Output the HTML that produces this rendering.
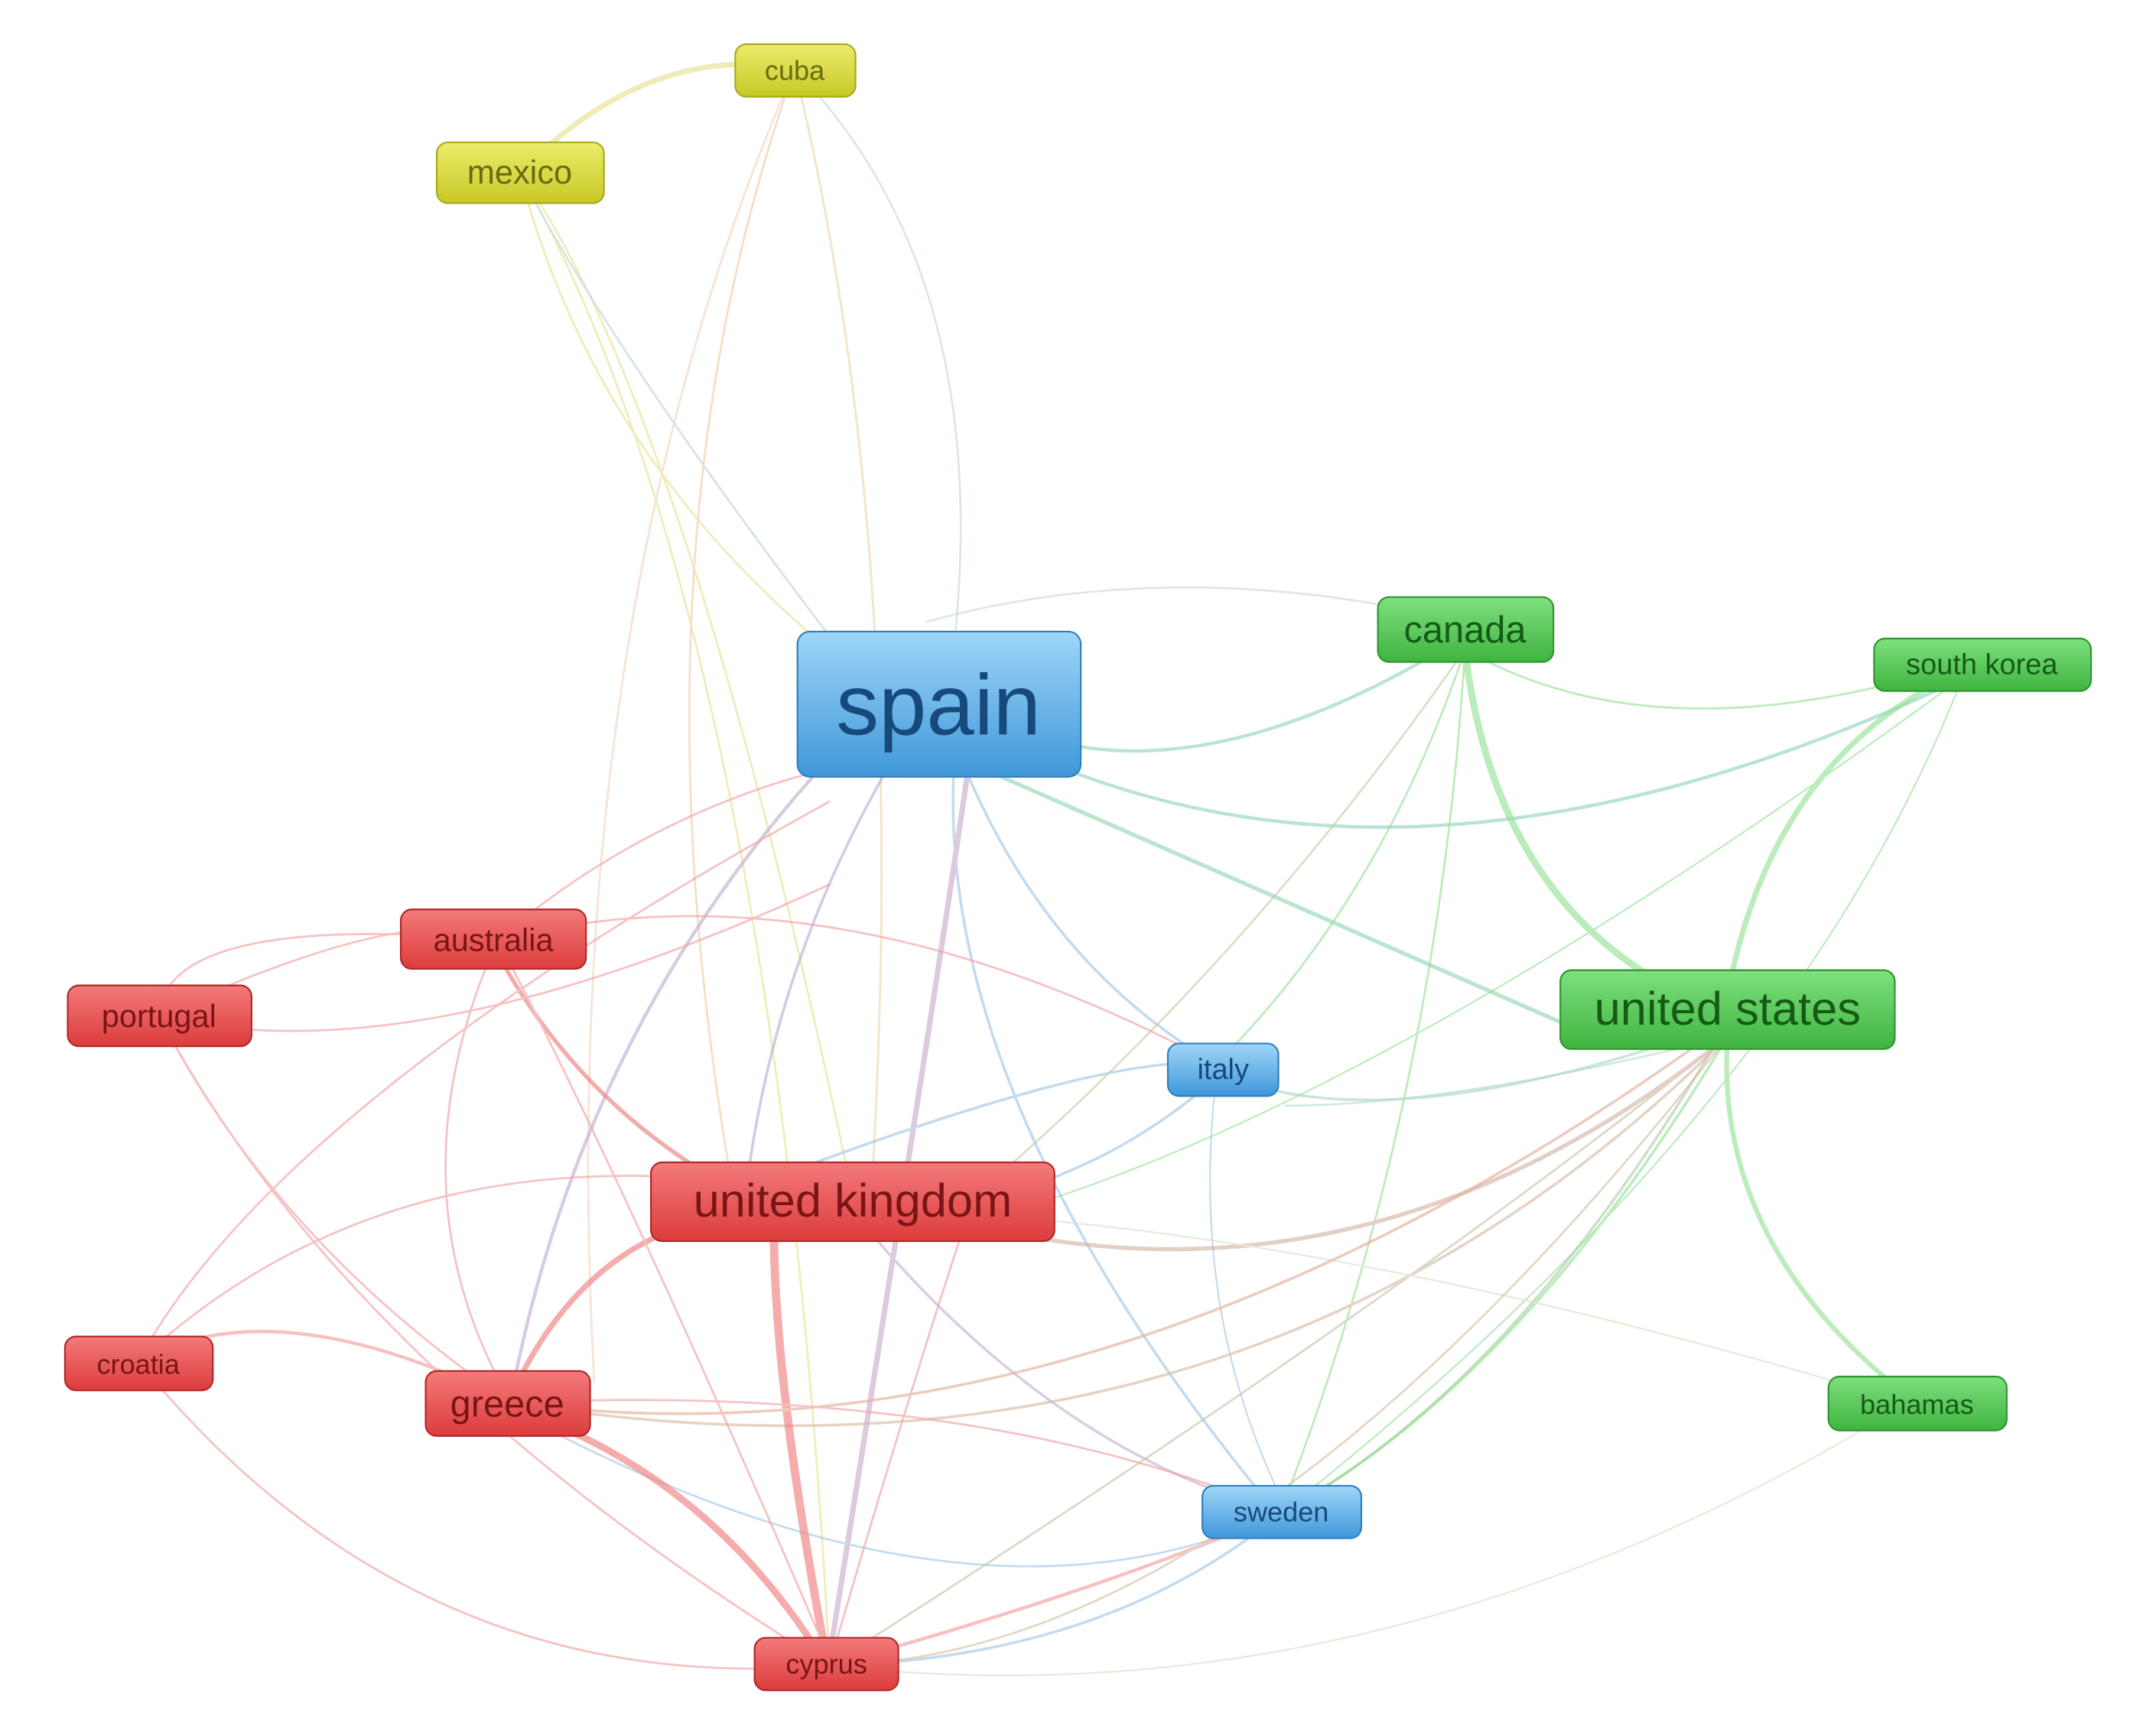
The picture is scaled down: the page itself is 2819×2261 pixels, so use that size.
<!DOCTYPE html>
<html><head><meta charset="utf-8"><style>
html,body{margin:0;padding:0;background:#fff;}
svg{display:block;}
text{font-family:"Liberation Sans",sans-serif;text-anchor:middle;dominant-baseline:central;}
</style></head><body>
<svg width="2819" height="2261" viewBox="0 0 1560 1251" preserveAspectRatio="none" xmlns="http://www.w3.org/2000/svg">
<defs>
<linearGradient id="gr" x1="0" y1="0" x2="0" y2="1"><stop offset="0" stop-color="#f47a7a"/><stop offset="1" stop-color="#dc3c3c"/></linearGradient>
<linearGradient id="gb" x1="0" y1="0" x2="0" y2="1"><stop offset="0" stop-color="#9fd6f8"/><stop offset="1" stop-color="#3f97da"/></linearGradient>
<linearGradient id="gg" x1="0" y1="0" x2="0" y2="1"><stop offset="0" stop-color="#7fe07f"/><stop offset="1" stop-color="#3fb43f"/></linearGradient>
<linearGradient id="gy" x1="0" y1="0" x2="0" y2="1"><stop offset="0" stop-color="#ecec6a"/><stop offset="1" stop-color="#c8c828"/></linearGradient>
</defs>
<g fill="none" stroke-linecap="round">
<g stroke="#e6e08a" stroke-width="1.5" opacity="0.6">
<path d="M376 125 Q470 30 575 50" stroke-width="4"/>
<path d="M376 125 Q430 330 600 470"/>
<path d="M376 125 Q500 300 620 880"/>
<path d="M376 125 Q560 450 600 1200"/>
<path d="M575 50 Q720 200 690 470" stroke="#c8d4dc"/>
<path d="M575 50 Q450 400 530 860" stroke="#f0c8a0"/>
<path d="M575 50 Q660 400 630 870" stroke="#f0d0a0"/>
<path d="M575 50 Q400 450 430 1000" stroke="#f4d0b8"/>
<path d="M376 125 Q440 250 600 460" stroke="#b8d0d8"/>
</g>
<g stroke="#9cc4e6" stroke-width="2" opacity="0.6">
<path d="M720 560 Q900 640 1130 740" stroke="#8ed4b0" stroke-width="3"/>
<path d="M780 560 Q1050 660 1400 500" stroke="#8ecfc0" stroke-width="2.5"/>
<path d="M780 540 Q900 560 1060 460" stroke="#8ed4b4" stroke-width="2.5"/>
<path d="M700 560 Q760 700 880 770"/>
<path d="M690 560 Q680 800 920 1090"/>
<path d="M700 560 Q680 700 600 1200" stroke="#c8a8c8" stroke-width="4"/>
<path d="M640 560 Q560 700 540 860" stroke="#b8a8d0" stroke-width="2"/>
<path d="M590 560 Q420 750 370 1010" stroke="#c0a8d0" stroke-width="2.5"/>
<path d="M880 775 Q1000 830 1250 740" stroke="#a8d4c4"/>
<path d="M880 770 Q800 760 540 860"/>
<path d="M880 780 Q800 850 700 870"/>
<path d="M880 780 Q860 950 930 1090" stroke-width="1.2"/>
<path d="M928 1094 Q1100 1000 1250 740" stroke="#b0c8a8"/>
<path d="M928 1094 Q700 1200 370 1020" stroke-width="1.5"/>
<path d="M928 1094 Q800 1200 600 1205"/>
<path d="M928 1094 Q760 1050 620 880" stroke="#c0b0d0"/>
<path d="M670 450 Q850 400 1060 450" stroke="#c8dcc8" stroke-width="1.5"/>
</g>
<g stroke="#8ee08e" stroke-width="1.5" opacity="0.6">
<path d="M1060 470 Q1080 640 1200 710" stroke-width="5"/>
<path d="M1400 495 Q1280 560 1250 720" stroke-width="4"/>
<path d="M1250 750 Q1240 900 1380 1010" stroke-width="3.5"/>
<path d="M1060 470 Q1000 650 880 770"/>
<path d="M1060 470 Q1040 800 928 1090"/>
<path d="M1060 470 Q900 700 700 870" stroke="#c8c8a0"/>
<path d="M1060 470 Q1200 550 1420 480"/>
<path d="M1250 750 Q1000 950 600 1205" stroke="#c0c0a0"/>
<path d="M1250 750 Q900 1100 370 1015" stroke="#d4b8a0" stroke-width="2"/>
<path d="M1250 750 Q1000 950 720 890" stroke="#d0b0a0" stroke-width="3"/>
<path d="M1250 750 Q1100 1000 928 1094" stroke-width="2"/>
<path d="M1420 490 Q1300 800 928 1094" stroke-width="1.2"/>
<path d="M1420 490 Q1000 800 720 880" stroke-width="1.2"/>
<path d="M1380 1015 Q1000 1250 600 1205" stroke="#d0e0c0" stroke-width="1.2"/>
<path d="M1380 1015 Q1000 900 720 880" stroke="#d0e0c0" stroke-width="1.2"/>
<path d="M1250 750 Q1050 800 930 800" stroke="#b4dcc0"/>
</g>
<g stroke="#f4a0a0" stroke-width="1.5" opacity="0.65">
<path d="M560 890 Q560 1000 598 1200" stroke="#f08080" stroke-width="6"/>
<path d="M400 1030 Q520 1080 595 1200" stroke="#f08080" stroke-width="5"/>
<path d="M370 1010 Q420 900 520 880" stroke="#f08080" stroke-width="4"/>
<path d="M360 690 Q420 800 530 860" stroke="#ec8080" stroke-width="3"/>
<path d="M115 735 Q250 990 600 1205"/>
<path d="M115 735 Q200 900 370 1015"/>
<path d="M115 735 Q300 650 360 680"/>
<path d="M115 735 Q300 780 600 640"/>
<path d="M115 735 Q120 660 360 680"/>
<path d="M100 985 Q200 930 370 1015" stroke-width="2.5"/>
<path d="M100 985 Q300 1230 600 1205"/>
<path d="M100 985 Q200 800 600 580"/>
<path d="M100 985 Q300 800 620 870"/>
<path d="M360 680 Q280 860 370 1015"/>
<path d="M360 680 Q450 850 600 1200"/>
<path d="M360 680 Q500 560 690 540"/>
<path d="M360 680 Q600 620 880 770"/>
<path d="M370 1015 Q800 1070 1250 740" stroke="#e4b09c" stroke-width="2"/>
<path d="M600 1205 Q800 1150 928 1094" stroke-width="2.5"/>
<path d="M600 1205 Q900 1200 1250 750" stroke="#d8c0a0"/>
<path d="M600 1205 Q660 1000 700 880"/>
<path d="M370 1015 Q700 1000 928 1094"/>
</g>
</g>
<g stroke-width="1.2">
<rect x="532" y="32" width="87" height="38" rx="8" fill="url(#gy)" stroke="#a8a820"/>
<rect x="316" y="103" width="121" height="44" rx="8" fill="url(#gy)" stroke="#a8a820"/>
<rect x="577" y="457" width="205" height="105" rx="9" fill="url(#gb)" stroke="#2f7fbf"/>
<rect x="997" y="432" width="127" height="47" rx="8" fill="url(#gg)" stroke="#2f942f"/>
<rect x="1356" y="462" width="157" height="38" rx="8" fill="url(#gg)" stroke="#2f942f"/>
<rect x="290" y="658" width="134" height="43" rx="8" fill="url(#gr)" stroke="#b02828"/>
<rect x="49" y="713" width="133" height="44" rx="8" fill="url(#gr)" stroke="#b02828"/>
<rect x="1129" y="702" width="242" height="57" rx="8" fill="url(#gg)" stroke="#2f942f"/>
<rect x="845" y="755" width="80" height="38" rx="8" fill="url(#gb)" stroke="#2f7fbf"/>
<rect x="471" y="841" width="292" height="57" rx="8" fill="url(#gr)" stroke="#b02828"/>
<rect x="47" y="967" width="107" height="39" rx="8" fill="url(#gr)" stroke="#b02828"/>
<rect x="308" y="992" width="119" height="47" rx="8" fill="url(#gr)" stroke="#b02828"/>
<rect x="1323" y="996" width="129" height="39" rx="8" fill="url(#gg)" stroke="#2f942f"/>
<rect x="870" y="1075" width="115" height="38" rx="8" fill="url(#gb)" stroke="#2f7fbf"/>
<rect x="546" y="1185" width="104" height="38" rx="8" fill="url(#gr)" stroke="#b02828"/>
</g>
<g>
<text x="575" y="51" font-size="20" fill="#6a6a10">cuba</text>
<text x="376" y="125" font-size="24" fill="#6a6a10">mexico</text>
<text x="679" y="510" font-size="62" fill="#174a7a">spain</text>
<text x="1060" y="456" font-size="27" fill="#155a15">canada</text>
<text x="1434" y="481" font-size="21" fill="#155a15">south korea</text>
<text x="357" y="680" font-size="23" fill="#7a1515">australia</text>
<text x="115" y="735" font-size="23" fill="#7a1515">portugal</text>
<text x="1250" y="730" font-size="34" fill="#155a15">united states</text>
<text x="885" y="774" font-size="21" fill="#174a7a">italy</text>
<text x="617" y="869" font-size="34" fill="#7a1515">united kingdom</text>
<text x="100" y="987" font-size="20" fill="#7a1515">croatia</text>
<text x="367" y="1016" font-size="27" fill="#7a1515">greece</text>
<text x="1387" y="1016" font-size="20" fill="#155a15">bahamas</text>
<text x="927" y="1094" font-size="20" fill="#174a7a">sweden</text>
<text x="598" y="1204" font-size="20" fill="#7a1515">cyprus</text>
</g>
</svg>
</body></html>
